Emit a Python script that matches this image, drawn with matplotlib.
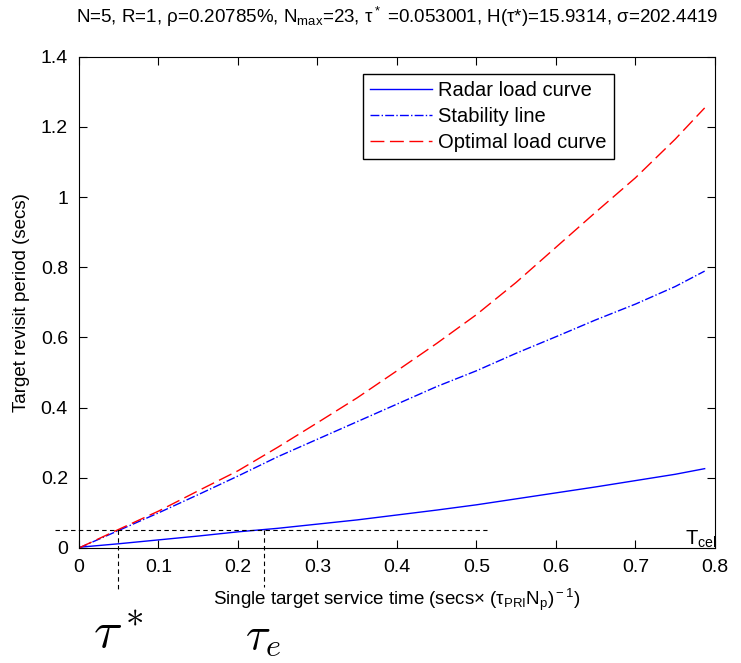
import numpy as np
import matplotlib.pyplot as plt

plt.rcParams["font.family"] = ["Liberation Sans", "DejaVu Sans"]
plt.rcParams["mathtext.fontset"] = "custom"
plt.rcParams["mathtext.rm"] = "Liberation Sans"
plt.rcParams["mathtext.it"] = "Liberation Sans"

# values
service_time = [0, 0.05, 0.1, 0.15, 0.2, 0.25, 0.3, 0.35, 0.4, 0.45, 0.5,
                0.55, 0.6, 0.65, 0.7, 0.75, 0.787]
radar_load = [0.002, 0.012, 0.023, 0.034, 0.046, 0.056, 0.068, 0.080, 0.094,
              0.108, 0.123, 0.140, 0.157, 0.174, 0.192, 0.210, 0.226]
stability = [0, 0.05, 0.1, 0.152, 0.205, 0.26, 0.31, 0.36, 0.41, 0.46, 0.505,
             0.555, 0.602, 0.65, 0.695, 0.745, 0.789]
optimal_load = [0, 0.053, 0.105, 0.163, 0.220, 0.287, 0.357, 0.428, 0.505,
                0.583, 0.665, 0.757, 0.857, 0.957, 1.055, 1.165, 1.254]

x_ticks = [0, 0.1, 0.2, 0.3, 0.4, 0.5, 0.6, 0.7, 0.8]
x_ticklabels = ["0", "0.1", "0.2", "0.3", "0.4", "0.5", "0.6", "0.7", "0.8"]
y_ticks = [0, 0.2, 0.4, 0.6, 0.8, 1.0, 1.2, 1.4]
y_ticklabels = ["0", "0.2", "0.4", "0.6", "0.8", "1", "1.2", "1.4"]

t_cell = 0.05
tau_star = 0.049
tau_e = 0.233

title = ("N=5, R=1, \u03c1=0.20785%, N$_{\\rm max}$=23, \u03c4$^*$ =0.053001, "
         "H(\u03c4*)=15.9314, \u03c3=202.4419")

fig = plt.figure(figsize=(7.41, 6.63), dpi=100)
ax = fig.add_axes([0.1066, 0.1735, 0.8583, 0.741])

ax.plot(service_time, radar_load, "b-", lw=1.0, label="Radar load curve")
ax.plot(service_time, stability, "b-.", lw=1.0, label="Stability line")
ax.plot(service_time, optimal_load, "r--", lw=1.0, dashes=(10, 4),
        label="Optimal load curve")

# T_cell level and the two crossing points
ax.plot([-0.03, 0.513], [t_cell, t_cell], "k--", lw=0.8, dashes=(4, 3),
        clip_on=False)
ax.plot([tau_star, tau_star], [t_cell, -0.12], "k--", lw=0.8, dashes=(4, 3),
        clip_on=False)
ax.plot([tau_e, tau_e], [t_cell, -0.11], "k--", lw=0.8, dashes=(4, 3),
        clip_on=False)

ax.text(0.762, -0.006, r"T$_{\rm cell}$", fontsize=14.5, va="bottom",
        ha="left", clip_on=True)

fig.text(118 / 741, 1 - 634 / 663, r"$\tau^*$", fontsize=38, ha="center",
         va="center", math_fontfamily="cm")
fig.text(263 / 741, 1 - 637 / 663, r"$\tau_e$", fontsize=33, ha="center",
         va="center", math_fontfamily="cm")

ax.set_xlim(0, 0.8)
ax.set_ylim(0, 1.4)
ax.set_xticks(x_ticks, x_ticklabels)
ax.set_yticks(y_ticks, y_ticklabels)
ax.tick_params(direction="in", top=True, right=True, length=6, labelsize=14,
               pad=8)

ax.set_xlabel("Single target service time (secs\u00d7 (\u03c4$_{\\rm PRI}$N$_{\\rm p}$)$^{\\rm -1}$)",
              fontsize=13.5, labelpad=8)
ax.set_ylabel("Target revisit period (secs)", fontsize=13.5, labelpad=8)
ax.set_title(title, fontsize=13.5, pad=24)

ax.legend(loc="upper left", bbox_to_anchor=(0.4465, 0.965), fontsize=14.5,
          frameon=True, fancybox=False, edgecolor="black", framealpha=1,
          handlelength=3.1, handletextpad=0.3, borderpad=0.35,
          labelspacing=0.35, borderaxespad=0)

fig.savefig("out.png", dpi=100)
plt.close(fig)
